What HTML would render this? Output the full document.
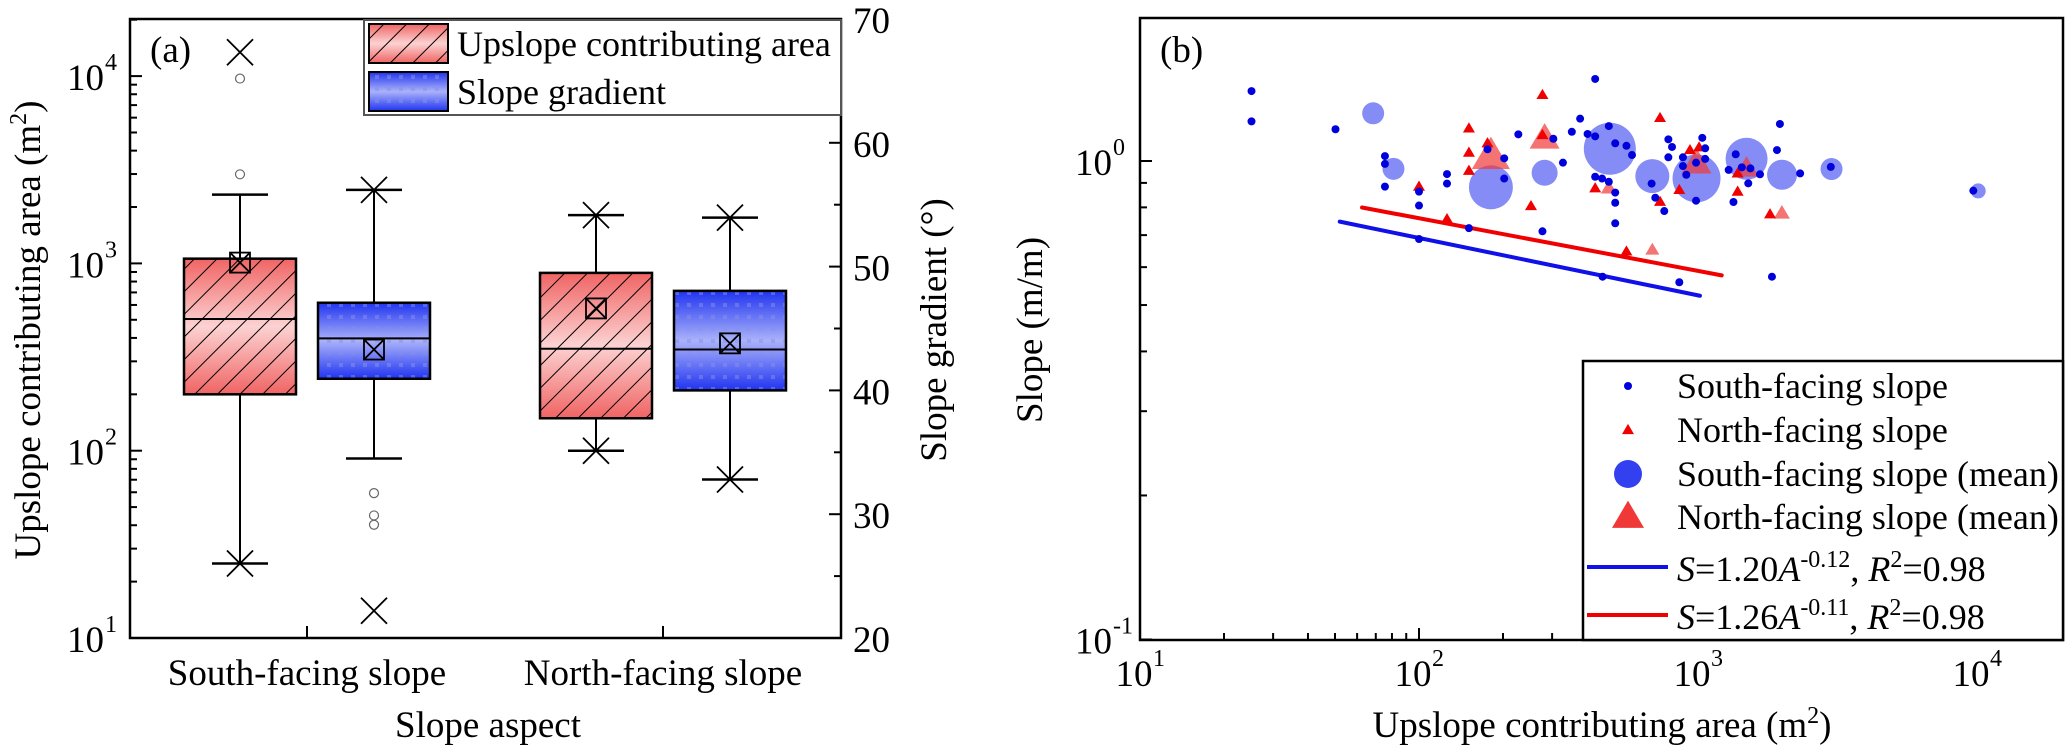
<!DOCTYPE html>
<html><head><meta charset="utf-8"><style>
html,body{margin:0;padding:0;background:#fff;}
svg{display:block;font-family:"Liberation Serif",serif;}
svg text{font-family:"Liberation Serif",serif;}
</style></head><body>
<svg id="fig" width="2067" height="750" viewBox="0 0 2067 750" xmlns="http://www.w3.org/2000/svg" font-family="Liberation Serif, serif">
<defs>
<linearGradient id="gRed" x1="0" y1="0" x2="0" y2="1">
<stop offset="0" stop-color="#f06464"/><stop offset="0.5" stop-color="#fcd2d2"/><stop offset="1" stop-color="#f06464"/></linearGradient>
<linearGradient id="gBlue" x1="0" y1="0" x2="0" y2="1">
<stop offset="0" stop-color="#2034f0"/><stop offset="0.5" stop-color="#aab2fa"/><stop offset="1" stop-color="#2034f0"/></linearGradient>
<pattern id="hatch" patternUnits="userSpaceOnUse" width="16" height="16" patternTransform="rotate(45)">
<line x1="0" y1="0" x2="0" y2="16" stroke="#000" stroke-width="2"/></pattern>
<pattern id="dots" patternUnits="userSpaceOnUse" width="12" height="12">
<rect x="3" y="3" width="4" height="4" fill="#8890e8" opacity="0.5"/></pattern>
</defs>
<g id="panelA"></g>
<g id="panelB"></g>
</svg>
<script>
// ===== Panel (a) data =====
const aCategories = ["South-facing slope", "North-facing slope"];
const areaQ1 = [200, 149];
const areaMedian = [505, 350];
const areaQ3 = [1060, 890];
const areaMean = [1010, 575];
const areaWhiskerLow = [25, 100];
const areaWhiskerHigh = [2330, 1810];
const areaMin = [25, 100];
const areaMax = [13400, 1810];
const areaOutliers = [[9700, 2990], []];
const gradQ1 = [40.94, 40.0];
const gradMedian = [44.2, 43.3];
const gradQ3 = [47.08, 48.04];
const gradMean = [43.3, 43.8];
const gradWhiskerLow = [34.5, 32.8];
const gradWhiskerHigh = [56.2, 53.96];
const gradMin = [22.2, 32.8];
const gradMax = [56.2, 53.96];
const gradOutliers = [[31.7, 29.9, 29.15], []];
const aLeftTicks = [1, 2, 3, 4];
const aRightTicks = [20, 30, 40, 50, 60, 70];

// ===== Panel (b) data =====
const southArea = [25.1,25.1,50.2,75.5,75.5,75.5,100,100,126,126,151,100,176,202,202,227,303,328,353,378,428,402,428,479,505,428,453,479,505,505,505,277,455,554,580,682,703,757,783,807,783,883,883,908,984,1036,1061,1061,984,857,1288,1365,1340,1436,1541,1668,1514,1919,1966,2323,2992,9700,1841];
const southSlope = [1.40,1.21,1.165,1.024,0.986,0.884,0.863,0.807,0.939,0.897,0.724,0.687,1.058,1.013,0.919,1.137,1.113,0.992,1.151,1.226,1.484,1.139,1.126,1.183,1.089,0.927,0.919,0.905,0.859,0.818,0.741,0.713,0.573,1.076,1.029,0.897,0.838,0.786,1.110,1.070,1.018,1.018,0.976,0.936,0.992,1.118,1.063,1.01,0.826,0.558,0.958,1.033,0.821,0.970,0.965,0.938,0.898,1.054,1.195,0.942,0.972,0.867,0.573];
const northArea = [151,151,151,100,126,176,277,277,252,428,731,936,1009,857,731,1387,1387,1812,554];
const northSlope = [1.170,1.041,0.954,0.884,0.756,1.089,1.374,1.133,0.805,0.877,1.230,1.054,1.068,0.870,0.822,0.942,0.863,0.774,0.647];
const southMeanArea = [68.5,81,181,282,483,686,988,1493,2001,3010,10100];
const southMeanSlope = [1.258,0.963,0.881,0.945,1.061,0.930,0.920,1.011,0.936,0.962,0.866];
const southMeanSize = [11,11,22,13,26,17,24,21,15,11,7.5];
const northMeanArea = [181,282,479,988,1493,1998,686];
const northMeanSlope = [1.024,1.115,0.878,0.989,0.965,0.778,0.652];
const northMeanSize = [19,15,8,15,12,8,7];
const fitCoefSouth = 1.20, fitExpSouth = -0.12, fitRangeSouth = [52, 1016];
const fitCoefNorth = 1.26, fitExpNorth = -0.11, fitRangeNorth = [62.5, 1216];
const bXTicks = [1, 2, 3, 4];
const bYTicks = [-1, 0];

const NS = "http://www.w3.org/2000/svg";
const FS = 37, FSUP = 24, FLEG = 36;
function mk(parent, tag, attrs, text) {
  const e = document.createElementNS(NS, tag);
  for (const k in attrs) e.setAttribute(k, attrs[k]);
  if (tag === "text") e.setAttribute("font-family", "Liberation Serif, serif");
  if (text !== undefined) e.textContent = text;
  parent.appendChild(e);
  return e;
}
const A = document.getElementById("panelA");
const B = document.getElementById("panelB");

// ---- Panel (a) scales ----
const aL = 130, aR = 841, aT = 19, aB = 638;
const yArea = v => aB - (Math.log10(v) - 1) * 187.3;
const yGrad = v => aB - (v - 20) * (aB - aT) / 50;
const catX = i => 307 + 356 * i;
const boxW = 112, off = 67;

let e;
for (const d of aLeftTicks) {
  for (let m = 1; m <= 9; m++) {
    if (d === 4 && m > 2) break;
    const y = yArea(m * Math.pow(10, d));
    if (y < aT) continue;
    e = mk(A, "line", {x1: aL, x2: aL + (m === 1 ? 12 : 7), y1: y, y2: y, stroke: "#000", "stroke-width": 2});
    
    
  }
  e = mk(A, "text", {x: 104, y: yArea(Math.pow(10, d)) + 14, "font-size": FS, "text-anchor": "end"}, "10");
  
  
  e = mk(A, "text", {x: 105, y: yArea(Math.pow(10, d)) - 6, "font-size": FSUP}, String(d));
  
  
}
for (let v = 20; v <= 70; v += 5) {
  e = mk(A, "line", {x1: aR, x2: aR - (v % 10 === 0 ? 12 : 7), y1: yGrad(v), y2: yGrad(v), stroke: "#000", "stroke-width": 2});
  
  
}
for (const v of aRightTicks) {
  e = mk(A, "text", {x: 853, y: yGrad(v) + 14, "font-size": FS}, String(v));
  
  
}
aCategories.forEach((c, i) => {
  e = mk(A, "line", {x1: catX(i), x2: catX(i), y1: aB, y2: aB - 12, stroke: "#000", "stroke-width": 2});
  
  
  e = mk(A, "text", {x: catX(i), y: 685, "font-size": FS, "text-anchor": "middle"}, c);
  
  
});

function xMark(g, cx, cy, s) {
  const p = mk(g, "path", {d: `M${cx-s},${cy-s}L${cx+s},${cy+s}M${cx-s},${cy+s}L${cx+s},${cy-s}`, stroke: "#000", "stroke-width": 1.8, fill: "none"});
  
  
}
function drawBox(i, cx, yf, q1, med, q3, mean, wl, wh, mn, mx, outs, fill, overlay, name) {
  const g = mk(A, "g", {});
  
  
  let l;
  l = mk(g, "line", {x1: cx, x2: cx, y1: yf(wh), y2: yf(q3), stroke: "#000", "stroke-width": 2});
  
  
  l = mk(g, "line", {x1: cx, x2: cx, y1: yf(q1), y2: yf(wl), stroke: "#000", "stroke-width": 2});
  
  
  for (const w of [wl, wh]) {
    l = mk(g, "line", {x1: cx - 28, x2: cx + 28, y1: yf(w), y2: yf(w), stroke: "#000", "stroke-width": 2.5});
    
    
  }
  const x0 = cx - boxW / 2, h = yf(q1) - yf(q3);
  l = mk(g, "rect", {x: x0, y: yf(q3), width: boxW, height: h, fill: fill});
  
  
  l = mk(g, "rect", {x: x0, y: yf(q3), width: boxW, height: h, fill: overlay});
  
  
  l = mk(g, "rect", {x: x0, y: yf(q3), width: boxW, height: h, fill: "none", stroke: "#000", "stroke-width": 2.5});
  
  
  l = mk(g, "line", {x1: x0, x2: x0 + boxW, y1: yf(med), y2: yf(med), stroke: "#000", "stroke-width": 2});
  
  
  const my = yf(mean);
  l = mk(g, "rect", {x: cx - 10, y: my - 10, width: 20, height: 20, fill: "none", stroke: "#000", "stroke-width": 1.8});
  
  
  xMark(g, cx, my, 9);
  xMark(g, cx, yf(mn), 13);
  xMark(g, cx, yf(mx), 13);
  for (const o of outs) {
    l = mk(g, "circle", {cx: cx, cy: yf(o), r: 4.5, fill: "none", stroke: "#666", "stroke-width": 1.2});
    
    
  }
}
for (let i = 0; i < aCategories.length; i++) {
  drawBox(i, catX(i) - off, yArea, areaQ1[i], areaMedian[i], areaQ3[i], areaMean[i], areaWhiskerLow[i], areaWhiskerHigh[i], areaMin[i], areaMax[i], areaOutliers[i], "url(#gRed)", "url(#hatch)", "area-box");
  drawBox(i, catX(i) + off, yGrad, gradQ1[i], gradMedian[i], gradQ3[i], gradMean[i], gradWhiskerLow[i], gradWhiskerHigh[i], gradMin[i], gradMax[i], gradOutliers[i], "url(#gBlue)", "url(#dots)", "gradient-box");
}
e = mk(A, "rect", {x: aL, y: aT, width: aR - aL, height: aB - aT, fill: "none", stroke: "#000", "stroke-width": 2.5});


const lg = mk(A, "g", {});


e = mk(lg, "rect", {x: 364, y: 20, width: 477, height: 95, fill: "#fff", stroke: "#555", "stroke-width": 2});


[["url(#gRed)", "url(#hatch)", 24, "Upslope contributing area"], ["url(#gBlue)", "url(#dots)", 72, "Slope gradient"]].forEach(([f, o, y, t]) => {
  let s = mk(lg, "rect", {x: 369, y: y, width: 79, height: 39, fill: f});
  
  
  s = mk(lg, "rect", {x: 369, y: y, width: 79, height: 39, fill: o, stroke: "#000", "stroke-width": 2});
  
  
  s = mk(lg, "text", {x: 457, y: y + 32, "font-size": FLEG}, t);
  
  
});
e = mk(A, "text", {x: 150, y: 62, "font-size": FS}, "(a)");


e = mk(A, "text", {x: 488, y: 737, "font-size": FS, "text-anchor": "middle"}, "Slope aspect");


e = mk(A, "text", {x: 0, y: 0, "font-size": FS, "text-anchor": "middle", transform: "translate(40,330) rotate(-90)"});


e.innerHTML = 'Upslope contributing area (m<tspan dy="-14" font-size="24">2</tspan><tspan dy="14">)</tspan>';
e = mk(A, "text", {x: 0, y: 0, "font-size": FS, "text-anchor": "middle", transform: "translate(946,330) rotate(-90)"}, "Slope gradient (°)");



// ---- Panel (b) scales ----
const bL = 1140, bR = 2063, bT = 18, bB = 640;
const xA = v => bL + (Math.log10(v) - 1) * 279;
const yS = v => 161 - Math.log10(v) * 478.5;

for (let d = 1; d <= 4; d++) {
  for (let m = 1; m <= 9; m++) {
    const x = xA(m * Math.pow(10, d));
    if (x > bR) break;
    e = mk(B, "line", {x1: x, x2: x, y1: bB, y2: bB - (m === 1 ? 12 : 7), stroke: "#000", "stroke-width": 2});
    
    
  }
}
for (const d of bXTicks) {
  e = mk(B, "text", {x: xA(Math.pow(10, d)) - 6, y: 686, "font-size": FS, "text-anchor": "middle"}, "10");
  
  
  e = mk(B, "text", {x: xA(Math.pow(10, d)) + 13, y: 666, "font-size": FSUP}, String(d));
  
  
}
for (let d = -1; d <= 0; d++) {
  for (let m = 1; m <= 9; m++) {
    const y = yS(m * Math.pow(10, d));
    if (y < bT) break;
    e = mk(B, "line", {x1: bL, x2: bL + (m === 1 ? 12 : 7), y1: y, y2: y, stroke: "#000", "stroke-width": 2});
    
    
  }
}
for (const d of bYTicks) {
  e = mk(B, "text", {x: 1112, y: yS(Math.pow(10, d)) + 14, "font-size": FS, "text-anchor": "end"}, "10");
  
  
  e = mk(B, "text", {x: 1113, y: yS(Math.pow(10, d)) - 6, "font-size": FSUP}, String(d));
  
  
}
function tri(g, cx, cy, hw, fill, op) {
  const h = hw * 1.7;
  return mk(g, "path", {d: `M${cx},${cy - h * 0.6}L${cx + hw},${cy + h * 0.4}L${cx - hw},${cy + h * 0.4}Z`, fill: fill, "fill-opacity": op});
}
for (let i = 0; i < southMeanArea.length; i++) {
  e = mk(B, "circle", {cx: xA(southMeanArea[i]), cy: yS(southMeanSlope[i]), r: southMeanSize[i], fill: "#3340f0", "fill-opacity": 0.6});
  
  
}
for (let i = 0; i < northMeanArea.length; i++) {
  e = tri(B, xA(northMeanArea[i]), yS(northMeanSlope[i]), northMeanSize[i], "#f03838", 0.7);
  
  
}
function fitLine(c, k, r, col, name) {
  const x1 = xA(r[0]), x2 = xA(r[1]);
  e = mk(B, "line", {x1: x1, x2: x2, y1: yS(c * Math.pow(r[0], k)), y2: yS(c * Math.pow(r[1], k)), stroke: col, "stroke-width": 4, "stroke-linecap": "round"});
  
  
}
fitLine(fitCoefSouth, fitExpSouth, fitRangeSouth, "#1010e8", "south-fit-line");
fitLine(fitCoefNorth, fitExpNorth, fitRangeNorth, "#f00000", "north-fit-line");
for (let i = 0; i < northArea.length; i++) {
  e = tri(B, xA(northArea[i]), yS(northSlope[i]), 6, "#f00000", 1);
  
  
}
for (let i = 0; i < southArea.length; i++) {
  e = mk(B, "circle", {cx: xA(southArea[i]), cy: yS(southSlope[i]), r: 4, fill: "#0000dd"});
  
  
}
e = mk(B, "rect", {x: bL, y: bT, width: bR - bL, height: bB - bT, fill: "none", stroke: "#000", "stroke-width": 2.5});


const lb = mk(B, "g", {});


e = mk(lb, "rect", {x: 1583, y: 361, width: 480, height: 279, fill: "#fff", stroke: "#000", "stroke-width": 2.5});


const legY = [386, 430, 474, 517, 567, 615];
e = mk(lb, "circle", {cx: 1628, cy: legY[0], r: 4, fill: "#0000dd"});


e = tri(lb, 1628, legY[1], 6, "#f00000", 1);


e = mk(lb, "circle", {cx: 1628, cy: legY[2], r: 14, fill: "#3340f0"});


e = tri(lb, 1628, legY[3], 16, "#f03838", 1);


e = mk(lb, "line", {x1: 1587, x2: 1668, y1: legY[4], y2: legY[4], stroke: "#1010e8", "stroke-width": 4});


e = mk(lb, "line", {x1: 1587, x2: 1668, y1: legY[5], y2: legY[5], stroke: "#f00000", "stroke-width": 4});


const legText = ["South-facing slope", "North-facing slope", "South-facing slope (mean)", "North-facing slope (mean)"];
legText.forEach((t, i) => {
  e = mk(lb, "text", {x: 1677, y: legY[i] + 12, "font-size": FLEG}, t);
  
  
});
e = mk(lb, "text", {x: 1677, y: legY[4] + 14, "font-size": FLEG});


e.innerHTML = '<tspan font-style="italic">S</tspan>=1.20<tspan font-style="italic">A</tspan><tspan dy="-14" font-size="24">-0.12</tspan><tspan dy="14">, </tspan><tspan font-style="italic">R</tspan><tspan dy="-14" font-size="24">2</tspan><tspan dy="14">=0.98</tspan>';
e = mk(lb, "text", {x: 1677, y: legY[5] + 14, "font-size": FLEG});


e.innerHTML = '<tspan font-style="italic">S</tspan>=1.26<tspan font-style="italic">A</tspan><tspan dy="-14" font-size="24">-0.11</tspan><tspan dy="14">, </tspan><tspan font-style="italic">R</tspan><tspan dy="-14" font-size="24">2</tspan><tspan dy="14">=0.98</tspan>';

e = mk(B, "text", {x: 1160, y: 62, "font-size": FS}, "(b)");


e = mk(B, "text", {x: 1602, y: 737, "font-size": FS, "text-anchor": "middle"});


e.innerHTML = 'Upslope contributing area (m<tspan dy="-14" font-size="24">2</tspan><tspan dy="14">)</tspan>';
e = mk(B, "text", {x: 0, y: 0, "font-size": FS, "text-anchor": "middle", transform: "translate(1042,330) rotate(-90)"}, "Slope (m/m)");


</script>
</body></html>
